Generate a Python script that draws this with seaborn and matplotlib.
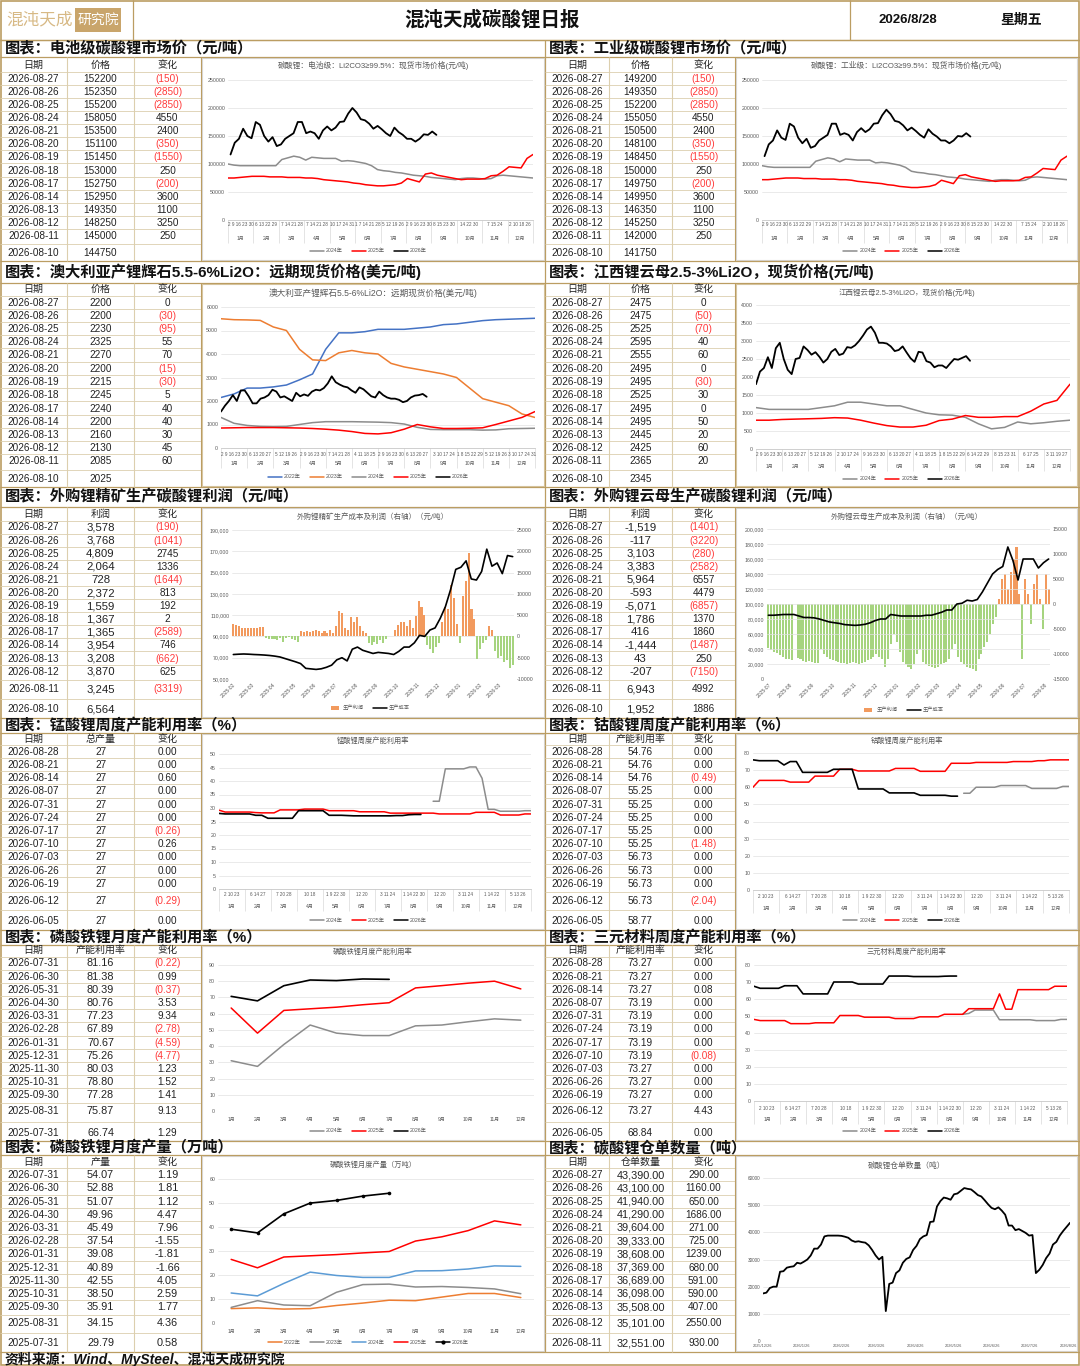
import numpy as np
import pandas as pd
import seaborn as sns
import matplotlib.pyplot as plt
import matplotlib.dates as mdates
from matplotlib.patches import Rectangle
from matplotlib.ticker import FuncFormatter

# ---------------- table data ----------------
DAILY_DATES = ['2026-08-27', '2026-08-26', '2026-08-25', '2026-08-24', '2026-08-21',
               '2026-08-20', '2026-08-19', '2026-08-18', '2026-08-17', '2026-08-14',
               '2026-08-13', '2026-08-12', '2026-08-11', '2026-08-10']
WEEKLY_DATES = ['2026-08-28', '2026-08-21', '2026-08-14', '2026-08-07', '2026-07-31',
                '2026-07-24', '2026-07-17', '2026-07-10', '2026-07-03', '2026-06-26',
                '2026-06-19', '2026-06-12', '2026-06-05']
MONTHLY_DATES = ['2026-07-31', '2026-06-30', '2026-05-31', '2026-04-30', '2026-03-31',
                 '2026-02-28', '2026-01-31', '2025-12-31', '2025-11-30', '2025-10-31',
                 '2025-09-30', '2025-08-31', '2025-07-31']
WR_DATES = DAILY_DATES[:13]

BAT_PRICE = [152200, 152350, 155200, 158050, 153500, 151100, 151450, 153000, 152750, 152950, 149350, 148250, 145000, 144750]
BAT_CHG = [-150, -2850, -2850, 4550, 2400, -350, -1550, 250, -200, 3600, 1100, 3250, 250, None]
IND_PRICE = [149200, 149350, 152200, 155050, 150500, 148100, 148450, 150000, 149750, 149950, 146350, 145250, 142000, 141750]
IND_CHG = [-150, -2850, -2850, 4550, 2400, -350, -1550, 250, -200, 3600, 1100, 3250, 250, None]
SPOD_PRICE = [2200, 2200, 2230, 2325, 2270, 2200, 2215, 2245, 2240, 2200, 2160, 2130, 2085, 2025]
SPOD_CHG = [0, -30, -95, 55, 70, -15, -30, 5, 40, 40, 30, 45, 60, None]
LEPI_PRICE = [2475, 2475, 2525, 2595, 2555, 2495, 2495, 2525, 2495, 2495, 2445, 2425, 2365, 2345]
LEPI_CHG = [0, -50, -70, 40, 60, 0, -30, 30, 0, 50, 20, 60, 20, None]
SP_PROFIT = [3578, 3768, 4809, 2064, 728, 2372, 1559, 1367, 1365, 3954, 3208, 3870, 3245, 6564]
SP_PROFIT_CHG = [-190, -1041, 2745, 1336, -1644, 813, 192, 2, -2589, 746, -662, 625, -3319, None]
LP_PROFIT = [-1519, -117, 3103, 3383, 5964, -593, -5071, 1786, 416, -1444, 43, -207, 6943, 1952]
LP_PROFIT_CHG = [-1401, -3220, -280, -2582, 6557, 4479, -6857, 1370, 1860, -1487, 250, -7150, 4992, 1886]
MN_OUTPUT = [27] * 13
MN_CHG = [0.00, 0.00, 0.60, 0.00, 0.00, 0.00, -0.26, 0.26, 0.00, 0.00, 0.00, -0.29, 0.00]
CO_UTIL = [54.76, 54.76, 54.76, 55.25, 55.25, 55.25, 55.25, 55.25, 56.73, 56.73, 56.73, 56.73, 58.77]
CO_CHG = [0.00, 0.00, -0.49, 0.00, 0.00, 0.00, 0.00, -1.48, 0.00, 0.00, 0.00, -2.04, 0.00]
LFP_UTIL = [81.16, 81.38, 80.39, 80.76, 77.23, 67.89, 70.67, 75.26, 80.03, 78.80, 77.28, 75.87, 66.74]
LFP_UTIL_CHG = [-0.22, 0.99, -0.37, 3.53, 9.34, -2.78, -4.59, -4.77, 1.23, 1.52, 1.41, 9.13, 1.29]
NCM_UTIL = [73.27, 73.27, 73.27, 73.19, 73.19, 73.19, 73.19, 73.19, 73.27, 73.27, 73.27, 73.27, 68.84]
NCM_CHG = [0.00, 0.00, 0.08, 0.00, 0.00, 0.00, 0.00, -0.08, 0.00, 0.00, 0.00, 4.43, 0.00]
LFP_OUT = [54.07, 52.88, 51.07, 49.96, 45.49, 37.54, 39.08, 40.89, 42.55, 38.50, 35.91, 34.15, 29.79]
LFP_OUT_CHG = [1.19, 1.81, 1.12, 4.47, 7.96, -1.55, -1.81, -1.66, 4.05, 2.59, 1.77, 4.36, 0.58]
WR_QTY = [43390, 43100, 41940, 41290, 39604, 39333, 38608, 37369, 36689, 36098, 35508, 35101, 32551]
WR_CHG = [290, 1160, 650, 1686, 271, 725, 1239, 680, 591, 590, 407, 2550, 930]

# ---------------- chart data ----------------
# battery grade Li2CO3, thousand yuan, weekly for 2024/2025
BAT_2024_K = [100, 98, 97, 97, 97, 97, 97, 97, 97, 108, 111, 114, 112, 107, 112, 111, 110, 110, 110, 105,
              106, 105, 103, 101, 97, 90, 88, 87, 85, 84, 82, 80, 79, 78, 76, 75, 74, 73, 72, 74,
              75, 75, 74, 73, 74, 79, 80, 79, 78, 77, 76, 75]
BAT_2025_K = [75, 75, 76, 77, 78, 78, 78, 77, 77, 77, 76, 76, 76, 75, 75, 74, 72, 71, 70, 69,
              68, 66, 65, 63, 62, 61, 61, 62, 63, 66, 74, 71, 68, 82, 84, 80, 78, 76, 74, 72,
              73, 73, 73, 74, 79, 80, 87, 95, 94, 93, 110, 117]
BAT_2026_K = [117, 138, 145, 163, 150, 146, 175, 170, 150, 140, 148, 132, 135, 145, 150, 155, 175, 175,
              155, 158, 155, 145, 160, 167, 160, 165, 175, 176, 190, 200, 192, 180, 178, 172, 163, 168,
              162, 155, 150, 165, 157, 152, 145, 145, 140, 145, 153, 152, 158, 152]
IND_2024_K = [97, 95, 94, 94, 94, 94, 94, 94, 94, 105, 108, 111, 109, 104, 109, 108, 107, 107, 107, 102,
              103, 102, 100, 98, 94, 87, 85, 84, 82, 81, 79, 77, 76, 75, 73, 72, 71, 70, 69, 71,
              72, 72, 71, 70, 71, 76, 77, 76, 75, 74, 73, 72]
IND_2025_K = [72, 72, 73, 74, 75, 75, 75, 74, 74, 74, 73, 73, 73, 72, 72, 71, 69, 68, 67, 66,
              65, 63, 62, 60, 59, 58, 58, 59, 60, 63, 71, 68, 65, 79, 81, 77, 75, 73, 71, 69,
              70, 70, 70, 71, 76, 77, 84, 92, 91, 90, 107, 114]
IND_2026_K = [114, 135, 142, 160, 147, 143, 172, 167, 147, 137, 145, 129, 132, 142, 147, 152, 172, 172,
              152, 155, 152, 142, 157, 164, 157, 162, 172, 173, 187, 197, 189, 177, 175, 169, 160, 165,
              159, 152, 147, 162, 154, 149, 142, 142, 137, 142, 150, 149, 155, 149]

# spodumene USD/t, half-monthly for 2022-2025
SPOD_2022 = [2150, 2300, 2550, 2550, 2600, 2680, 2900, 3150, 4200, 4900, 4900, 4950, 5050, 5050, 5050, 5100,
             5150, 5250, 5280, 5350, 5420, 5460, 5480, 5500, 5520]
SPOD_2023 = [5500, 5460, 5450, 5430, 5150, 5000, 4200, 3750, 3720, 4050, 4150, 4050, 4000, 3600, 3450, 3350,
             3250, 3150, 3000, 2550, 2100, 1950, 1800, 1450, 1300]
SPOD_2024 = [1300, 1050, 960, 920, 910, 920, 1000, 1080, 1120, 1120, 1120, 1110, 1100, 1080, 1020, 880,
             790, 780, 780, 780, 760, 770, 820, 830, 840]
SPOD_2025 = [850, 860, 870, 870, 870, 860, 850, 830, 800, 760, 700, 620, 600, 650, 800, 1000,
             900, 830, 830, 840, 860, 1000, 1150, 1300, 1550]
SPOD_2026 = [1550, 1800, 2000, 2250, 2000, 2450, 2450, 2200, 1900, 1900, 2100, 2150, 2250, 2480, 2400,
             2150, 2200, 2100, 2000, 2350, 2200, 2280, 2220, 2400, 2480, 2450, 2550, 2750, 3050, 2800,
             2700, 2620, 2580, 2450, 2350, 2580, 2500, 2350, 2200, 2150, 2400, 2250, 2150, 2100, 2100,
             2050, 1950, 2000, 2150, 2230, 2250, 2300, 2180]

# lepidolite yuan/t
LEPI_2024 = [1150, 1100, 1100, 1100, 1100, 1150, 1200, 1300, 1300, 1250, 1200, 1200, 1100, 1000, 950, 940,
             880, 700, 560, 600, 750, 700, 730, 770, 800]
LEPI_2025 = [800, 800, 820, 830, 840, 850, 870, 860, 800, 720, 650, 610, 610, 660, 790, 830,
             930, 880, 880, 900, 900, 1050, 1250, 1350, 1800]
LEPI_2026 = [1800, 2150, 2250, 2550, 2250, 2800, 2950, 2500, 2200, 2080, 2500, 2530, 2850, 2750, 2620,
             2690, 2560, 2400, 2500, 2700, 2780, 2610, 2650, 2830, 2810, 2880, 3000, 3150, 3320, 3400,
             3230, 2950, 2950, 2930, 2850, 2720, 2750, 2850, 2680, 2520, 2420, 2700, 2680, 2440, 2400,
             2270, 2320, 2320, 2250, 2380, 2500, 2480, 2530, 2580, 2450]

# profit from purchased spodumene: bars yuan (right axis), cost thousand yuan (left axis)
SP_START, SP_END = '2025-02-01', '2026-03-22'
SP_BARS = [2900, 2800, 2400, 2000, 1900, 1900, 2000, 1900, 2000, 2100, 2200,
           -300, -600, -700, -500, -800, -300, -1200, -400, -200, -500, -900, -1400,
           1200, 1100, 1200, 1100, 1200, 1500, 1300, 900, 1200, 700, 1400, 900,
           2500, 6000, 5500, 2000, 1500, 4500, 3500, 4500, 2500, 1200, 800,
           -1500, -2000, -1200, -1800, -900, -1500, -700,
           100, 200,
           1500, 2800, 3500, 3300, 2500, 3800, 2000,
           4900, 8400, 7000, 5000,
           -2000, -3000, -3800, -2500, -1500,
           3500, 7000, 6500,
           12000, 9000,
           3000, -1500, 9600, 13000, 19500, 6500, 4000,
           -5300, -3000, -1500, -800,
           2500, 1500,
           -3500, -5000, -4500, -6000, -5500, -7300, -6800]
SP_COST_K = [73, 73.3, 73.5, 73.3, 73, 72.8, 72.5, 72.1, 71.5, 70.7, 69.2, 67.7, 66.2, 64.5, 60,
             59.5, 59, 59.6, 61, 63, 68, 70, 67, 78, 80, 77, 75.5, 74, 75, 74.5, 74, 73, 76, 80,
             80, 84, 91, 90, 96, 98, 107, 118, 134, 153, 155, 161, 144, 143, 151, 172, 156, 159,
             149, 166, 165]

# profit from purchased lepidolite
LP_START, LP_END = '2025-07-01', '2026-08-06'
LP_BARS = [-8800, -9200, -9600, -9800, -10200, -10600, -10900, -11000, -11200, 0, -10800, -11000, -11300,
           -11500, -11300, -11600, -11700, -11800,
           -9000, -10000, -10500, -11000, -11200, -11300, -11500, -11700, -11800, -12000, -11800, -11500,
           -11800, -12000, -11700, -11500, -11200, -11000, -10500,
           -10000, -10500, -11000, -12500,
           -11000, -8000, -6000, -7500, -9500, -11500, -12000, -12500, -13000, -12000, -10000, -9000,
           -11500, -12000, -12300, -12500, -12800, -12500, -12000, -11800, -11500, -11000, -9000, -8000,
           -10500, -11500, -12000, -12500, -12800, -13000, -13300, -11000, -10000, -8500, -7500, -6000,
           -4000, -2500,
           1000, 5000, 6000, 3000, 6500, 9000, 11500, 2000, -11000, 5000, 2000, -4000, 4000, 6000, 1000,
           -5000, 6000, 3000]
LP_COST_K = [85, 85, 85.5, 86, 86, 86, 84, 82, 82, 81.5, 80, 78, 76, 75, 74, 72.5, 72, 71.5, 72, 73,
             75, 78, 80, 80, 86, 85, 84, 84, 84, 84, 84, 85, 85, 87, 89, 92, 92, 100, 101, 105,
             104, 106, 116, 128, 140, 146, 150, 176, 158, 132, 160, 160, 160, 148, 155, 160]

# weekly utilisation, %, week index from the first week of the year
MN_2024, MN_2024_START = [32.5, 32.5, 44.5, 44.5, 44.5, 44.5, 45.2, 45.2, 41.0, 29.5, 29.5, 28.8, 28.8,
                          28.8, 28.8, 29.0, 29.0], 35
MN_2025 = [29.2, 28.5, 28.5, 28.5, 28.5, 28.5, 28.3, 28.2, 28.2, 28.2, 29.3, 29.3, 29.3, 29.3, 29.6, 29.6,
           29.6, 29.6, 29.0, 29.0, 29.0, 29.0, 29.0, 28.6, 28.6, 28.6, 28.6, 28.6, 28.1, 28.1, 28.1, 28.1,
           28.1, 28.1, 28.1, 28.1, 27.8, 27.8, 27.8, 27.8, 27.8, 27.8, 28.4, 28.4, 28.4, 28.4, 27.4, 27.4,
           27.4, 27.4, 27.8, 27.8]
MN_2026 = [28.0, 27.8, 27.8, 27.8, 27.8, 27.8, 27.3, 27.3, 26.2, 26.2, 26.2, 26.2, 26.2, 29.0, 29.0, 29.0,
           29.0, 29.0, 27.3, 27.3, 27.3, 27.2, 27.1, 27.1, 27.1, 27.1, 27.1, 27.1, 27.1, 27.2, 27.2, 27.5,
           27.6, 27.6]
CO_2024, CO_2024_START = [56.5, 56.5, 60, 60, 60, 60, 61, 61, 61, 61, 61, 59.3, 59.3, 59.3, 59.3, 59.3,
                          60.5, 60.5], 34
CO_2025 = [60, 64, 64, 64, 64, 64, 63, 63, 63, 63, 66.5, 66.5, 66.5, 66.5, 70.5, 70.5, 70.5, 69.5, 69.5,
           69.5, 69.5, 69.5, 69.5, 71, 71, 71, 71, 69.3, 69.3, 69.3, 69.3, 69.3, 74, 74, 74, 74, 74.5,
           74.5, 74.5, 74.5, 74.5, 74.5, 75, 75, 75, 75, 75.5, 75.5, 76, 76, 76, 76]
CO_2026 = [76, 75.5, 75.5, 75.5, 75.5, 73, 75, 75, 68.7, 68.7, 68.7, 68.7, 68.7, 70.5, 70.5, 70.5, 70.5,
           59, 59, 59, 59, 59, 56.7, 56.7, 56.7, 56.7, 56.7, 55.3, 55.3, 55.3, 55.3, 55.3, 54.8, 54.8]
NCM_2024, NCM_2024_START = [51, 51.5, 53.5, 53.5, 53.5, 53.5, 47.8, 47.8, 47.8, 47.8, 47.8, 47.8, 47.3,
                            47.3, 47.3, 47.3, 48, 48], 34
NCM_2025 = [48, 47.3, 47.3, 47.3, 47.3, 47.3, 45.5, 45.5, 45.5, 45.5, 46, 46, 46, 46, 50.3, 50.3, 50.3,
            50.3, 49.3, 49.3, 49.3, 49.3, 49.3, 48.5, 48.5, 48.5, 48.5, 49.5, 49.5, 49.5, 49.5, 51, 51,
            51, 51, 54.3, 54.3, 54.3, 54.3, 54.3, 63, 54, 54, 65.5, 65.5, 65.5, 65.5, 65.5, 65.5, 67.5,
            67.5, 67.5]
NCM_2026 = [67.5, 66.3, 66.3, 66.3, 66.3, 67.8, 67.8, 67.8, 63, 63, 63, 63, 63, 70, 70, 70, 70, 68.8,
            68.8, 68.8, 68.8, 68.8, 73.5, 73.5, 73.5, 73.5, 73.2, 73.2, 73.2, 73.2, 73.2, 73.4, 73.5, 73.5]

# monthly LFP
MONTHS = ['1月', '2月', '3月', '4月', '5月', '6月', '7月', '8月', '9月', '10月', '11月', '12月']
LFPU_2024 = [31, 27.5, 41, 53, 48, 46.5, 46.5, 52.5, 53, 55, 56.8, 56]
LFPU_2025 = [63.5, 48, 62, 63, 64, 65.5, 66.74, 75.87, 77.28, 78.80, 80.03, 75.26]
LFPU_2026 = [70.67, 67.89, 77.23, 80.76, 80.39, 81.38, 81.16]
LFPO_2022 = [6, 6.3, 5.8, 6, 7.3, 8.3, 9.5, 9.3, 10.8, 12.3, 12.3, 10.6]
LFPO_2023 = [6.5, 9.3, 7.5, 7.2, 12.8, 16, 16.2, 15, 15.2, 14.8, 14.2, 12.2]
LFPO_2024 = [12.5, 11.3, 16.5, 21.2, 19.8, 19, 19, 21.7, 21.8, 22.5, 23.8, 23.6]
LFPO_2025 = [26.5, 23, 27.5, 28, 28.5, 29.2, 29.79, 34.15, 35.91, 38.50, 42.55, 40.89]
LFPO_2026 = [39.08, 37.54, 45.49, 49.96, 51.07, 52.88, 54.07]

# warehouse receipts, tonnes
WR_START, WR_END = '2025-12-26', '2026-08-27'
WR_LINE = [17500, 17800, 19500, 20000, 20000, 25500, 25700, 27000, 27300, 27500, 28800, 28500, 29200,
           30000, 31500, 34000, 34000, 35500, 38500, 38800, 38800, 38800, 38800, 38700, 38400, 38000,
           37000, 36500, 36700, 36400, 36200, 35200, 33500, 31500, 30000, 31000, 11000, 21000, 21500,
           25000, 26000, 28800, 30200, 30800, 33500, 35000, 37500, 38500, 39000, 43800, 44000, 49500,
           51500, 52800, 52500, 52000, 54000, 54300, 55300, 56300, 56000, 55800, 54800, 53700, 53200,
           51800, 50300, 49000, 48500, 49200, 48000, 46500, 42500, 42500, 40800, 41200, 40500, 39800,
           38800, 39000, 25000, 26200, 28000, 30500, 32200, 35500, 36500, 38800, 40500, 42000, 43500]

DAYS_PRICE = ['2 9 16 23 30', '6 13 22 29', '7 14 21 28', '7 14 21 28', '10 17 24 31', '1 7 14 21 28',
              '5 12 19 26', '2 9 16 23 30', '8 15 23 30', '14 22 30', '7 15 24', '2 10 18 26']
DAYS_SPOD = ['2 9 16 23 30', '6 13 20 27', '5 12 19 26', '2 9 16 23 30', '7 14 21 28', '4 11 18 25',
             '2 9 16 23 30', '6 13 20 27', '3 10 17 24', '1 8 15 22 29', '5 12 19 26', '3 10 17 24 31']
DAYS_LEPI = ['2 9 16 23 30', '6 13 20 27', '5 12 19 26', '2 10 17 24', '9 16 23 30', '6 13 20 27',
             '4 11 18 25', '1 8 15 22 29', '6 14 22 29', '8 15 23 31', '6 17 25', '3 11 19 27']
DAYS_WEEK = ['2 10 23', '6 14 27', '7 20 28', '10 18', '1 9 22 30', '12 20', '3 11 24', '1 14 22 30',
             '12 20', '3 11 24', '1 14 22', '5 13 26']

# ---------------- style ----------------
sns.set_theme(style='white')
plt.rcParams['font.family'] = ['Liberation Sans', 'Noto Sans CJK SC', 'DejaVu Sans']

GOLD = '#bb9d62'
CELL = '#dccfae'
GRID = '#e2e2e2'
TICK = '#595959'
RED = '#ff3b3b'
GRAY = '#8c8c8c'
BLUE = '#4472c4'
ORANGE = '#ed7d31'
BAR_POS = '#f29a5e'
BAR_NEG = '#a6d47f'

W, H = 1080, 1366
fig = plt.figure(figsize=(W / 100, H / 100), dpi=100)
bg = fig.add_axes([0, 0, 1, 1])
bg.set_xlim(0, W)
bg.set_ylim(H, 0)
bg.axis('off')


def px_axes(box):
    x0, y0, x1, y1 = box
    return fig.add_axes([x0 / W, 1 - y1 / H, (x1 - x0) / W, (y1 - y0) / H])


def hline(y, x0, x1, color=GOLD, lw=0.9):
    bg.plot([x0, x1], [y, y], color=color, lw=lw, solid_capstyle='butt')


def vline(x, y0, y1, color=GOLD, lw=0.9):
    bg.plot([x, x], [y0, y1], color=color, lw=lw, solid_capstyle='butt')


def text_w(s, fs):
    return sum(0.56 if ord(c) < 128 else 1.0 for c in s) * fs * 100 / 72


def legend_px(cx, y, items, fs=3.8):
    widths = [16 + text_w(lab, fs) + 9 for lab, _, _ in items]
    x = cx - sum(widths) / 2
    for (lab, color, kind), w in zip(items, widths):
        if kind == 'bar':
            bg.add_patch(Rectangle((x + 4, y - 2), 8, 4, color=color, lw=0))
        else:
            bg.plot([x, x + 14], [y, y], color=color, lw=1.1)
            if kind == 'marker':
                bg.plot([x + 7], [y], marker='o', ms=2, color=color)
        bg.text(x + 16, y, lab, fontsize=fs, color=TICK, ha='left', va='center')
        x += w


def rows(first, step, n, extra):
    return [first + step * i for i in range(n)] + extra


def paren(v, nd=0):
    if v is None:
        return ''
    s = f'{abs(v):.{nd}f}'
    return f'({s})' if v < 0 else s


def draw_table(xs, top, head_y, row_ys, bottom, headers, columns, sizes=(7.2, 7.2, 7.2)):
    for j in range(3):
        cx = (xs[j] + xs[j + 1]) / 2
        bg.text(cx, head_y, headers[j], ha='center', va='center', fontsize=7.2, color='#222222')
        for y, s in zip(row_ys, columns[j]):
            col = RED if s.startswith('(') else '#222222'
            bg.text(cx, y + 0.5, s, ha='center', va='center', fontsize=sizes[j], color=col)
    lines = [(a + b) / 2 for a, b in zip([head_y] + row_ys[:-1], row_ys)]
    for y in lines:
        hline(y, xs[0], xs[3], color=CELL, lw=0.6)
    for x in xs[1:3]:
        vline(x, top, bottom, color=CELL, lw=0.8)
    vline(xs[3], top, bottom, color=GOLD, lw=0.8)


def chart_frame(frame, title, title_y, edge='#d9d9d9', fs=5.2):
    x0, y0, x1, y1 = frame
    bg.add_patch(Rectangle((x0 + 1, y0 + 1), x1 - x0 - 2, y1 - y0 - 2, fill=False, ec=edge, lw=0.8))
    bg.text((x0 + x1) / 2, title_y, title, fontsize=fs, color=TICK, ha='center', va='center')


def style_axis(ax, lo, hi, step, fmt=None, grid=True):
    ax.set_ylim(lo, hi)
    ax.set_yticks(np.arange(lo, hi + step / 2, step))
    ax.tick_params(axis='both', labelsize=3.8, colors=TICK, length=0, pad=2)
    ax.grid(False)
    if grid:
        ax.yaxis.grid(True, color=GRID, lw=0.5)
    ax.set_axisbelow(True)
    for s in ax.spines.values():
        s.set_visible(False)
    ax.set_xlabel('')
    ax.set_ylabel('')
    if fmt:
        ax.yaxis.set_major_formatter(FuncFormatter(fmt))


def season_chart(frame, plot, title, title_y, series, xmax, ylim, days, days_y, months_y, legend_y,
                 edge='#d9d9d9', title_fs=5.2):
    chart_frame(frame, title, title_y, edge, title_fs)
    ax = px_axes(plot)
    for lab, xs, ys, color, lw in series:
        sns.lineplot(x=xs, y=ys, ax=ax, color=color, linewidth=lw, errorbar=None, sort=False)
    ax.set_xlim(0, xmax)
    ax.set_xticks([])
    style_axis(ax, *ylim)
    ax.spines['bottom'].set_visible(True)
    ax.spines['bottom'].set_color('#c8c8c8')
    ax.spines['bottom'].set_linewidth(0.6)
    x0, y0, x1, y1 = plot
    mw = (x1 - x0) / 12
    for m in range(12):
        c = x0 + (m + 0.5) * mw
        bg.text(c, days_y, days[m], fontsize=3.3, color=TICK, ha='center', va='center')
        bg.text(c, months_y, MONTHS[m], fontsize=3.6, color=TICK, ha='center', va='center')
    for m in range(13):
        vline(x0 + m * mw, y1, months_y + 5, color='#d9d9d9', lw=0.5)
    legend_px((frame[0] + frame[2]) / 2, legend_y, [(s[0], s[3], 'line') for s in series])
    return ax


def month_chart(frame, plot, title, title_y, series, ylim, legend_y):
    chart_frame(frame, title, title_y)
    ax = px_axes(plot)
    idx = np.arange(12)
    for lab, ys, color, lw, mk in series:
        kw = dict(marker='o', markersize=2.6, markeredgewidth=0) if mk else {}
        sns.lineplot(x=idx[:len(ys)], y=ys, ax=ax, color=color, linewidth=lw, errorbar=None, **kw)
    ax.set_xlim(-0.5, 11.5)
    style_axis(ax, *ylim)
    ax.set_xticks(idx, MONTHS)
    ax.tick_params(axis='x', labelsize=3.6, pad=4)
    legend_px((frame[0] + frame[2]) / 2, legend_y,
              [(s[0], s[2], 'marker' if s[4] else 'line') for s in series])
    return ax


def profit_chart(frame, plot, title, title_y, start, end, bars, cost_k, left, right, grid_left, legend_y):
    chart_frame(frame, title, title_y, fs=5.4)
    ax = px_axes(plot)
    ax2 = ax.twinx()
    bar_dates = pd.date_range(start, end, periods=len(bars))
    cost_dates = pd.date_range(start, end, periods=len(cost_k))
    step = (bar_dates[1] - bar_dates[0]) / pd.Timedelta(days=1)
    colors = [BAR_POS if v >= 0 else BAR_NEG for v in bars]
    ax2.bar(bar_dates, bars, width=step * 0.7, color=colors, lw=0)
    sns.lineplot(x=cost_dates, y=np.array(cost_k) * 1000, ax=ax, color='black', linewidth=1.2,
                 errorbar=None)
    ax.set_zorder(ax2.get_zorder() + 1)
    ax.patch.set_visible(False)
    style_axis(ax, *left, grid=grid_left)
    style_axis(ax2, *right, grid=not grid_left)
    ax.set_xlim(bar_dates[0] - pd.Timedelta(days=2), bar_dates[-1] + pd.Timedelta(days=2))
    ax.xaxis.set_major_locator(mdates.MonthLocator())
    ax.xaxis.set_major_formatter(mdates.DateFormatter('%Y-%m'))
    ax.tick_params(axis='x', labelsize=3.6, pad=2)
    plt.setp(ax.get_xticklabels(), rotation=45, ha='right', rotation_mode='anchor')
    legend_px((frame[0] + frame[2]) / 2, legend_y,
              [('生产利润', BAR_POS, 'bar'), ('生产成本', 'black', 'line')])
    return ax


def thousands(v, _):
    return f'{v:,.0f}'


def plain(v, _):
    return f'{v:.0f}'


# ---------------- page frame and header ----------------
LX = [0, 67, 134, 201]
RX = [545, 609, 672, 735]
BANDS = [(40, 57), (261, 283), (487, 507), (718, 733), (930, 945), (1141, 1155)]

bg.add_patch(Rectangle((0.5, 0.5), W - 1.5, H - 1.5, fill=False, ec=GOLD, lw=1.2))
hline(40, 0, W)
vline(133, 0, 40)
vline(850, 0, 40)
bg.text(40, 20, '混沌天成', fontsize=12, color='#d7b985', ha='center', va='center')
bg.add_patch(Rectangle((75, 8), 46, 24, fc='#c9a56b', ec='none'))
bg.text(98, 20, '研究院', fontsize=10, color='white', ha='center', va='center')
bg.text(492, 20, '混沌天成碳酸锂日报', fontsize=14, fontweight='bold', color='#111111', ha='center', va='center')
bg.text(908, 20, '2026/8/28', fontsize=9.5, fontweight='bold', color='#111111', ha='center', va='center')
bg.text(1021, 20, '星期五', fontsize=10, fontweight='bold', color='#111111', ha='center', va='center')

TITLES_L = ['图表：电池级碳酸锂市场价（元/吨）', '图表：澳大利亚产锂辉石5.5-6%Li2O：远期现货价格(美元/吨)',
            '图表：外购锂精矿生产碳酸锂利润（元/吨）', '图表：锰酸锂周度产能利用率（%）',
            '图表：磷酸铁锂月度产能利用率（%）', '图表：磷酸铁锂月度产量（万吨）']
TITLES_R = ['图表：工业级碳酸锂市场价（元/吨）', '图表：江西锂云母2.5-3%Li2O，现货价格(元/吨)',
            '图表：外购锂云母生产碳酸锂利润（元/吨）', '图表：钴酸锂周度产能利用率（%）',
            '图表：三元材料周度产能利用率（%）', '图表：碳酸锂仓单数量（吨）']
for (t, b), tl, tr in zip(BANDS, TITLES_L, TITLES_R):
    hline(t, 0, W)
    hline(b, 0, W)
    bg.text(5, (t + b) / 2, tl, fontsize=11, fontweight='bold', color='#111111', ha='left', va='center')
    bg.text(549, (t + b) / 2, tr, fontsize=11, fontweight='bold', color='#111111', ha='left', va='center')
vline(545, 40, 1352)
hline(1352, 0, W)
bg.text(5, 1359, '资料来源：Wind、MySteel、混沌天成研究院', fontsize=10, fontweight='bold',
        fontstyle='italic', color='#111111', ha='left', va='center')

# ---------------- tables ----------------
R1 = rows(78.3, 13.1, 13, [253])
R2 = rows(302, 13.25, 13, [478])
R3 = rows(527, 13.1, 12, [689, 709])
R4 = rows(751.3, 13.2, 11, [900, 920])
R5 = rows(963, 13.2, 11, [1111, 1132])
R6 = rows(1174.7, 13.2, 11, [1323, 1343])

draw_table(LX, 57, 65, R1, 261, ['日期', '价格', '变化'],
           [DAILY_DATES, [str(v) for v in BAT_PRICE], [paren(v) for v in BAT_CHG]])
draw_table(RX, 57, 65, R1, 261, ['日期', '价格', '变化'],
           [DAILY_DATES, [str(v) for v in IND_PRICE], [paren(v) for v in IND_CHG]])
draw_table(LX, 283, 289, R2, 487, ['日期', '价格', '变化'],
           [DAILY_DATES, [str(v) for v in SPOD_PRICE], [paren(v) for v in SPOD_CHG]])
draw_table(RX, 283, 289, R2, 487, ['日期', '价格', '变化'],
           [DAILY_DATES, [str(v) for v in LEPI_PRICE], [paren(v) for v in LEPI_CHG]])
draw_table(LX, 507, 514, R3, 718, ['日期', '利润', '变化'],
           [DAILY_DATES, [f'{v:,}' for v in SP_PROFIT], [paren(v) for v in SP_PROFIT_CHG]],
           sizes=(7.2, 8.2, 7.2))
draw_table(RX, 507, 514, R3, 718, ['日期', '利润', '变化'],
           [DAILY_DATES, [f'{v:,}' for v in LP_PROFIT], [paren(v) for v in LP_PROFIT_CHG]],
           sizes=(7.2, 8.2, 7.2))
draw_table(LX, 733, 739, R4, 930, ['日期', '总产量', '变化'],
           [WEEKLY_DATES, [str(v) for v in MN_OUTPUT], [paren(v, 2) for v in MN_CHG]])
draw_table(RX, 733, 739, R4, 930, ['日期', '产能利用率', '变化'],
           [WEEKLY_DATES, [f'{v:.2f}' for v in CO_UTIL], [paren(v, 2) for v in CO_CHG]])
draw_table(LX, 945, 950, R5, 1141, ['日期', '产能利用率', '变化'],
           [MONTHLY_DATES, [f'{v:.2f}' for v in LFP_UTIL], [paren(v, 2) for v in LFP_UTIL_CHG]],
           sizes=(7.2, 7.8, 7.2))
draw_table(RX, 945, 950, R5, 1141, ['日期', '产能利用率', '变化'],
           [WEEKLY_DATES, [f'{v:.2f}' for v in NCM_UTIL], [paren(v, 2) for v in NCM_CHG]])
draw_table(LX, 1155, 1162, R6, 1352, ['日期', '产量', '变化'],
           [MONTHLY_DATES, [f'{v:.2f}' for v in LFP_OUT], [f'{v:.2f}' for v in LFP_OUT_CHG]],
           sizes=(7.2, 7.8, 7.8))
draw_table(RX, 1155, 1162, R6, 1352, ['日期', '仓单数量', '变化'],
           [WR_DATES, [f'{v:,.2f}' for v in WR_QTY], [f'{v:.2f}' for v in WR_CHG]],
           sizes=(7.2, 7.8, 7.2))

# ---------------- charts ----------------
full52 = np.linspace(0, 12, 52)
half25 = np.linspace(0, 12, 25)
k = 1000

season_chart((201, 57, 545, 261), (228, 80, 533, 220),
             '碳酸锂：电池级：Li2CO3≥99.5%：现货市场价格(元/吨)', 65,
             [('2024年', full52, np.array(BAT_2024_K) * k, GRAY, 1.1),
              ('2025年', full52, np.array(BAT_2025_K) * k, 'red', 1.1),
              ('2026年', np.linspace(0.1, 8.2, len(BAT_2026_K)), np.array(BAT_2026_K) * k, 'black', 1.3)],
             12, (0, 250000, 50000, plain), DAYS_PRICE, 225, 238, 251, title_fs=5.6)
season_chart((735, 57, 1078, 261), (762, 80, 1067, 220),
             '碳酸锂：工业级：Li2CO3≥99.5%：现货市场价格(元/吨)', 65,
             [('2024年', full52, np.array(IND_2024_K) * k, GRAY, 1.1),
              ('2025年', full52, np.array(IND_2025_K) * k, 'red', 1.1),
              ('2026年', np.linspace(0.1, 8.2, len(IND_2026_K)), np.array(IND_2026_K) * k, 'black', 1.3)],
             12, (0, 250000, 50000, plain), DAYS_PRICE, 225, 238, 251, title_fs=5.6)

season_chart((201, 283, 545, 487), (221, 307, 535, 448),
             '澳大利亚产锂辉石5.5-6%Li2O：远期现货价格(美元/吨)', 293,
             [('2022年', half25, SPOD_2022, BLUE, 1.1),
              ('2023年', half25, SPOD_2023, ORANGE, 1.1),
              ('2024年', half25, SPOD_2024, GRAY, 1.1),
              ('2025年', half25, SPOD_2025, 'red', 1.1),
              ('2026年', np.linspace(0, 7.86, len(SPOD_2026)), SPOD_2026, 'black', 1.3)],
             12, (0, 6000, 1000), DAYS_SPOD, 454, 463, 477, edge='#d8c8a4', title_fs=6.2)
season_chart((735, 283, 1078, 487), (756, 305, 1070, 449),
             '江西锂云母2.5-3%Li2O，现货价格(元/吨)', 293,
             [('2024年', half25, LEPI_2024, GRAY, 1.1),
              ('2025年', half25, LEPI_2025, 'red', 1.1),
              ('2026年', np.linspace(0, 8.18, len(LEPI_2026)), LEPI_2026, 'black', 1.3)],
             12, (0, 4000, 500), DAYS_LEPI, 455, 466, 479, edge='#d8c8a4', title_fs=5.4)

profit_chart((201, 507, 545, 718), (232, 530, 514, 679), '外购锂精矿生产成本及利润（右轴）（元/吨）', 517,
             SP_START, SP_END, SP_BARS, SP_COST_K, (50000, 190000, 20000, thousands),
             (-10000, 25000, 5000, plain), False, 708)
profit_chart((735, 507, 1078, 718), (767, 529, 1050, 679), '外购锂云母生产成本及利润（右轴）（元/吨）', 517,
             LP_START, LP_END, LP_BARS, LP_COST_K, (0, 200000, 20000, thousands),
             (-15000, 15000, 5000, plain), True, 710)

week = np.arange(52)
season_chart((201, 733, 545, 930), (219, 754, 531, 889), '锰酸锂周度产能利用率', 741,
             [('2024年', MN_2024_START + np.arange(len(MN_2024)), MN_2024, GRAY, 1.1),
              ('2025年', week, MN_2025, 'red', 1.1),
              ('2026年', week[:len(MN_2026)], MN_2026, 'black', 1.2)],
             51, (0, 50, 5), DAYS_WEEK, 895, 906, 920)
season_chart((735, 733, 1078, 930), (753, 753, 1069, 890), '钴酸锂周度产能利用率', 741,
             [('2024年', CO_2024_START + np.arange(len(CO_2024)), CO_2024, GRAY, 1.1),
              ('2025年', week, CO_2025, 'red', 1.1),
              ('2026年', week[:len(CO_2026)], CO_2026, 'black', 1.2)],
             51, (0, 80, 10), DAYS_WEEK, 897, 908, 920)

month_chart((201, 945, 545, 1141), (218, 965, 534, 1111), '磷酸铁锂月度产能利用率', 952,
            [('2024年', LFPU_2024, GRAY, 1.1, False),
             ('2025年', LFPU_2025, 'red', 1.1, False),
             ('2026年', LFPU_2026, 'black', 1.2, False)],
            (0, 90, 10), 1131)
season_chart((735, 945, 1078, 1141), (754, 965, 1067, 1101), '三元材料周度产能利用率', 952,
             [('2024年', NCM_2024_START + np.arange(len(NCM_2024)), NCM_2024, GRAY, 1.1),
              ('2025年', week, NCM_2025, 'red', 1.1),
              ('2026年', week[:len(NCM_2026)], NCM_2026, 'black', 1.2)],
             51, (0, 80, 10), DAYS_WEEK, 1108, 1119, 1131)

month_chart((201, 1155, 545, 1352), (218, 1179, 534, 1323), '磷酸铁锂月度产量（万吨）', 1165,
            [('2022年', LFPO_2022, ORANGE, 1.1, False),
             ('2023年', LFPO_2023, GRAY, 1.1, False),
             ('2024年', LFPO_2024, '#5b9bd5', 1.1, False),
             ('2025年', LFPO_2025, 'red', 1.1, False),
             ('2026年', LFPO_2026, 'black', 1.2, True)],
            (0, 60, 10), 1342)

chart_frame((735, 1155, 1078, 1352), '碳酸锂仓单数量（吨）', 1166, fs=5.6)
ax_wr = px_axes((763, 1178, 1070, 1341))
wr_dates = pd.date_range(WR_START, WR_END, periods=len(WR_LINE))
sns.lineplot(x=wr_dates, y=WR_LINE, ax=ax_wr, color='black', linewidth=1.3, errorbar=None)
style_axis(ax_wr, 0, 60000, 10000, plain)
wr_ticks = pd.date_range(WR_START, periods=9, freq=pd.DateOffset(months=1))
ax_wr.set_xlim(wr_dates[0], wr_dates[-1])
ax_wr.set_xticks(wr_ticks, [f'{d.year}/{d.month}/{d.day}' for d in wr_ticks])
ax_wr.tick_params(axis='x', labelsize=2.8, pad=2)
ax_wr.tick_params(axis='y', labelsize=3.4)

fig.savefig('out.png', dpi=100)
